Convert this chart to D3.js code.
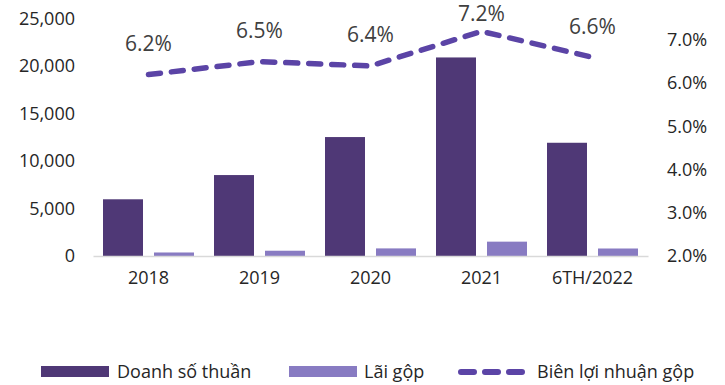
<!DOCTYPE html>
<html>
<head>
<meta charset="utf-8">
<script src="https://cdn.jsdelivr.net/npm/d3@7"></script>
<style>
  body { margin: 0; background: #fff; }
  svg { display: block; font-family: "Open Sans", sans-serif; }
</style>
</head>
<body>
<svg id="chart" width="725" height="385"></svg>
<script>
// data
var categories = ["2018", "2019", "2020", "2021", "6TH/2022"];
var netSales = [5970, 8520, 12520, 20900, 11920];
var grossProfit = [370, 555, 800, 1510, 790];
var grossMargin = [6.2, 6.5, 6.4, 7.2, 6.6];
var leftTicks = [0, 5000, 10000, 15000, 20000, 25000];
var rightTicks = [2, 3, 4, 5, 6, 7];
var seriesNames = ["Doanh số thuần", "Lãi gộp", "Biên lợi nhuận gộp"];

var colors = {
    sales: "#4f3876",
    profit: "#887bc2",
    margin: "#5b44a6"
};

var svg = d3.select("#chart");

var plot = { left: 93, right: 648, top: 18.5, bottom: 256 };

var x = d3.scaleBand()
    .domain(categories)
    .range([plot.left, plot.right]);

var xInner = d3.scaleBand()
    .domain(["sales", "profit"])
    .range([0, x.bandwidth()])
    .paddingInner(0.216)
    .paddingOuter(0.196);

var y = d3.scaleLinear()
    .domain([0, 25000])
    .range([plot.bottom, plot.top]);

var y2 = d3.scaleLinear()
    .domain([2, 8])
    .range([plot.bottom, plot.bottom - 6 * 43.2]);

// left axis
var leftAxis = svg.append("g")
    .attr("transform", "translate(75,0)")
    .call(d3.axisLeft(y).tickValues(leftTicks).tickSize(0).tickPadding(0)
        .tickFormat(d3.format(",")));
leftAxis.select(".domain").remove();
leftAxis.selectAll("text")
    .attr("font-family", "Open Sans")
    .attr("font-size", 18)
    .attr("fill", "#262626");

// right axis
var rightAxis = svg.append("g")
    .attr("transform", "translate(667,0)")
    .call(d3.axisRight(y2).tickValues(rightTicks).tickSize(0).tickPadding(0)
        .tickFormat(function(d) { return d.toFixed(1) + "%"; }));
rightAxis.select(".domain").remove();
rightAxis.selectAll("text")
    .attr("font-family", "Open Sans")
    .attr("font-size", 18)
    .attr("fill", "#262626");

// bars
var groups = svg.append("g").selectAll("g")
    .data(categories)
    .enter().append("g")
    .attr("transform", function(d) { return "translate(" + x(d) + ",0)"; });

groups.append("rect")
    .attr("x", xInner("sales"))
    .attr("width", xInner.bandwidth())
    .attr("y", function(d, i) { return y(netSales[i]); })
    .attr("height", function(d, i) { return y(0) - y(netSales[i]); })
    .attr("fill", colors.sales);

groups.append("rect")
    .attr("x", xInner("profit"))
    .attr("width", xInner.bandwidth())
    .attr("y", function(d, i) { return y(grossProfit[i]); })
    .attr("height", function(d, i) { return y(0) - y(grossProfit[i]); })
    .attr("fill", colors.profit);

// x axis
var bottomAxis = svg.append("g")
    .attr("transform", "translate(0," + plot.bottom + ")")
    .call(d3.axisBottom(x).tickSize(0).tickPadding(15));
bottomAxis.select(".domain")
    .attr("stroke", "#d9d9d9")
    .attr("stroke-width", 1.5);
bottomAxis.selectAll("text")
    .attr("font-family", "Open Sans")
    .attr("font-size", 18)
    .attr("fill", "#262626");

// margin line
var line = d3.line()
    .x(function(d, i) { return x(categories[i]) + x.bandwidth() / 2; })
    .y(function(d) { return y2(d); });

svg.append("path")
    .datum(grossMargin)
    .attr("d", line)
    .attr("fill", "none")
    .attr("stroke", colors.margin)
    .attr("stroke-width", 5.5)
    .attr("stroke-linecap", "round")
    .attr("stroke-dasharray", "12,11");

svg.append("g").selectAll("text")
    .data(grossMargin)
    .enter().append("text")
    .attr("x", function(d, i) { return x(categories[i]) + x.bandwidth() / 2; })
    .attr("y", function(d) { return Math.max(y2(d) - 31, 13.5); })
    .attr("dy", "0.35em")
    .attr("text-anchor", "middle")
    .attr("font-size", 21)
    .attr("fill", "#404040")
    .text(function(d) { return d.toFixed(1) + "%"; });

// legend
var legend = svg.append("g").attr("font-size", 18).attr("fill", "#262626");

legend.append("rect")
    .attr("x", 41).attr("y", 366).attr("width", 68).attr("height", 11)
    .attr("fill", colors.sales);
legend.append("text")
    .attr("x", 117).attr("y", 372).attr("dy", "0.35em")
    .text(seriesNames[0]);

legend.append("rect")
    .attr("x", 289).attr("y", 366).attr("width", 68).attr("height", 11)
    .attr("fill", colors.profit);
legend.append("text")
    .attr("x", 364).attr("y", 372).attr("dy", "0.35em")
    .text(seriesNames[1]);

legend.append("line")
    .attr("x1", 461).attr("x2", 524).attr("y1", 372).attr("y2", 372)
    .attr("stroke", colors.margin)
    .attr("stroke-width", 6)
    .attr("stroke-linecap", "round")
    .attr("stroke-dasharray", "13,11");
legend.append("text")
    .attr("x", 537).attr("y", 372).attr("dy", "0.35em")
    .text(seriesNames[2]);
</script>
</body>
</html>
